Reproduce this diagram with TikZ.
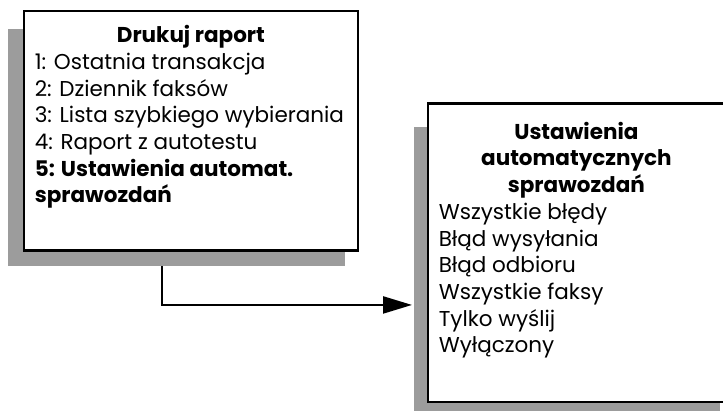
\documentclass[tikz,border=0pt]{standalone}
\usepackage{fontspec}
\setmainfont{Poppins}
\usetikzlibrary{arrows.meta,positioning,backgrounds}
\colorlet{shadowgray}[rgb]{black!39}

\begin{document}
\begin{tikzpicture}[x=1pt,y=-1pt,
    menubox/.style={draw=black, line width=2.3pt, fill=white, outer sep=0pt,
      inner xsep=11pt, anchor=north west, font=\fontsize{21.5}{26.7}\selectfont},
    dropshadow/.style={fill=shadowgray},
    link/.style={draw=black, line width=2.3pt, -{Triangle[length=29pt,width=17pt]}}]
  \useasboundingbox (0,0) rectangle (723,410);

  % menu Drukuj raport
  \node[menubox, inner ysep=14.5pt] (raport) at (23.8,11) {%
    \begin{minipage}[t][210.5pt][t]{312.2pt}
      {\centering\textbf{Drukuj raport}\par}
      \raggedright
      1: Ostatnia transakcja\\
      2: Dziennik faksów\\
      3: Lista szybkiego wybierania\\
      4: Raport z autotestu\\
      \textbf{5: Ustawienia automat.}\\
      \textbf{sprawozdań}
    \end{minipage}};

  % submenu
  \node[menubox, inner ysep=18.5pt] (ustawienia) at (427.8,103.5) {%
    \begin{minipage}[t][261.7pt][t]{275.2pt}
      {\centering\textbf{Ustawienia}\\\textbf{automatycznych}\\\textbf{sprawozdań}\par}
      \raggedright
      Wszystkie błędy\\
      Błąd wysyłania\\
      Błąd odbioru\\
      Wszystkie faksy\\
      Tylko wyślij\\
      Wyłączony
    \end{minipage}};

  \begin{scope}[on background layer]
    \draw[link] ([xshift=-28.9pt]raport.south) |- ([shift={(-15.8,52.1)}]ustawienia.west);
    \fill[dropshadow] ([shift={(-15.5,18.3)}]raport.north west) rectangle ([shift={(-13,15.2)}]raport.south east);
    \fill[dropshadow] ([shift={(-13.8,23.2)}]ustawienia.north west) rectangle ([shift={(-5,9)}]ustawienia.south east);
  \end{scope}
\end{tikzpicture}
\end{document}
